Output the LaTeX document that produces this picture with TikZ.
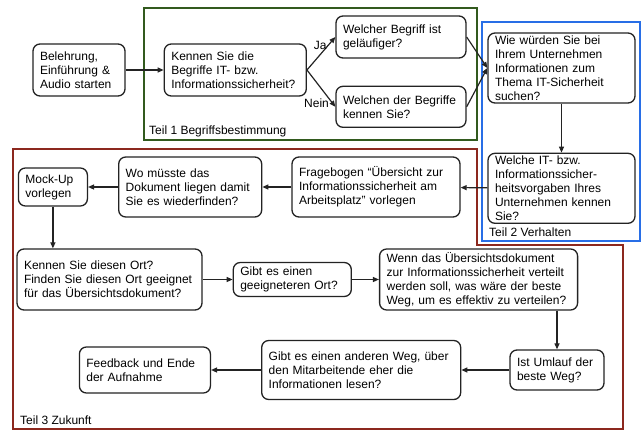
\documentclass[tikz,border=0pt]{standalone}
\usepackage{fontspec}
\setmainfont{Liberation Sans}
\usepackage{xcolor}
\usepackage{tikz}
\usetikzlibrary{positioning, arrows.meta}

\definecolor{teilgreen}{RGB}{50,90,30}
\definecolor{teilblue}{RGB}{40,110,230}
\definecolor{teilred}{RGB}{140,40,30}
\definecolor{boxline}{RGB}{35,35,35}

\begin{document}
\begin{tikzpicture}[
    x=1pt, y=-1pt,
    box/.style={
        rectangle,
        rounded corners=7pt,
        draw=boxline,
        line width=1.3pt,
        align=left,
        inner xsep=7pt,
        inner ysep=1pt,
        font=\fontsize{12}{14}\selectfont
    },
    arrow/.style={
        line width=1.2pt,
        draw=boxline,
        -{Triangle[length=6pt,width=5pt]}
    },
    frame/.style={
        line width=1.6pt
    },
    teil/.style={
        anchor=west,
        inner sep=0pt,
        font=\fontsize{12}{14}\selectfont
    },
    answer/.style={
        inner sep=1pt,
        font=\fontsize{12}{14}\selectfont
    }
]
\useasboundingbox (0,0) rectangle (641,431);

% Frames

\draw[frame, teilgreen] (144,8) rectangle (477,140);
\draw[frame, teilblue] (482,22) rectangle (640,241);
\draw[frame, teilred] (13,149) -- (477,149) -- (477,245) -- (623,245)
    -- (623,429) -- (13,429) -- cycle;

\node[teil] (teil1) at (149,131) {Teil 1 Begriffsbestimmung};
\node[teil] (teil2) at (489,232) {Teil 2 Verhalten};
\node[teil] (teil3) at (20,420.5) {Teil 3 Zukunft};

% Teil 1

\node[box, text width=78pt, minimum height=52pt] (start) at (79,70) {
Belehrung,\\ Einführung \&\\ Audio starten
};

\node[box, text width=128pt, minimum height=52pt, right=38pt of start] (kennen) {
Kennen Sie die\\ Begriffe IT- bzw.\\ Informationssicherheit?
};

\node[box, text width=116pt, minimum height=42pt] (begriff) at (401,37) {
Welcher Begriff ist\\ geläufiger?
};

\node[box, text width=116pt, minimum height=41pt, below=27pt of begriff] (welchen) {
Welchen der Begriffe\\ kennen Sie?
};

% Teil 2

\node[box, text width=133pt, minimum height=70pt] (suche) at (561.5,68) {
Wie würden Sie bei\\ Ihrem Unternehmen\\ Informationen zum\\ Thema IT-Sicherheit\\ suchen?
};

\node[box, text width=133pt, minimum height=70pt, below=49pt of suche] (vorgaben) {
Welche IT- bzw.\\ Informationssicher-\\ heitsvorgaben Ihres\\ Unternehmen kennen\\ Sie?
};

% Teil 3

\node[box, text width=154pt, minimum height=60pt] (fragebogen) at (376,187) {
Fragebogen “Übersicht zur\\ Informationssicherheit am\\ Arbeitsplatz” vorlegen
};

\node[box, text width=129pt, minimum height=60pt, left=29pt of fragebogen] (ort) {
Wo müsste das\\ Dokument liegen damit\\ Sie es wiederfinden?
};

\node[box, text width=55pt, minimum height=38pt, left=30pt of ort] (mockup) {
Mock-Up\\ vorlegen
};

\node[box, text width=171pt, minimum height=61pt] (kennort) at (109.5,279.5) {
Kennen Sie diesen Ort?\\ Finden Sie diesen Ort geeignet\\ für das Übersichtsdokument?
};

\node[box, text width=104pt, minimum height=34pt, right=30pt of kennort] (geeignet) {
Gibt es einen\\ geeigneteren Ort?
};

\node[box, text width=184pt, minimum height=61pt, right=27pt of geeignet] (verteilen) {
Wenn das Übersichtsdokument\\ zur Informationssicherheit verteilt\\ werden soll, was wäre der beste\\ Weg, um es effektiv zu verteilen?
};

\node[box, text width=80pt, minimum height=40pt] (umlauf) at (557,370) {
Ist Umlauf der\\ beste Weg?
};

\node[box, text width=185pt, minimum height=59pt, left=48pt of umlauf] (anderer) {
Gibt es einen anderen Weg, über\\ den Mitarbeitende eher die\\ Informationen lesen?
};

\node[box, text width=117pt, minimum height=46pt, left=50pt of anderer] (feedback) {
Feedback und Ende\\ der Aufnahme
};


% Arrows

\draw[arrow] (start)--(kennen);
\draw[arrow] (kennen.east)--(begriff.west) node[answer, pos=0.75, left] {Ja};
\draw[arrow] (kennen.east)--(welchen.west) node[answer, pos=0.9, left=2pt] {Nein};
\draw[arrow] (begriff.east)--(suche.west);
\draw[arrow] (welchen.east)--(suche.west);
\draw[arrow] (suche)--(vorgaben);
\draw[arrow] (vorgaben)--(fragebogen);
\draw[arrow] (fragebogen)--(ort);
\draw[arrow] (ort)--(mockup);
\draw[arrow] (mockup.south)--(mockup.south |- kennort.north);
\draw[arrow] (kennort)--(geeignet);
\draw[arrow] (geeignet)--(verteilen);
\draw[arrow] (verteilen.south -| umlauf.north)--(umlauf.north);
\draw[arrow] (umlauf)--(anderer);
\draw[arrow] (anderer)--(feedback);

\end{tikzpicture}
\end{document}
